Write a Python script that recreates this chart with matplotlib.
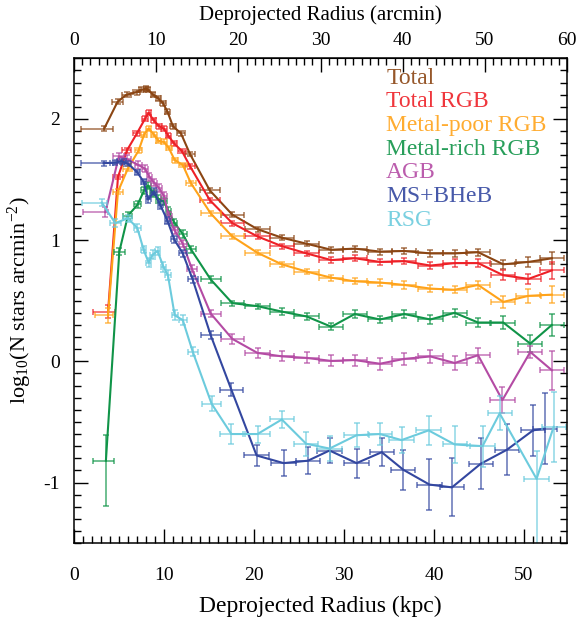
import matplotlib
matplotlib.use("Agg")
import matplotlib.pyplot as plt
from matplotlib.ticker import MultipleLocator, FixedLocator

plt.rcParams['font.family'] = ['Liberation Serif', 'DejaVu Serif']
plt.rcParams['mathtext.fontset'] = 'custom'
plt.rcParams['mathtext.rm'] = 'Liberation Serif'
plt.rcParams['mathtext.it'] = 'Liberation Serif:italic'
plt.rcParams['axes.unicode_minus'] = False

# ---- data ----
outer_x = [20.4, 23.1, 25.85, 28.6, 31.2, 34.0, 36.7, 39.6, 42.3, 44.9, 47.7, 50.5, 53.1]
outer_hw = [1.35, 1.35, 1.35, 1.35, 1.35, 1.35, 1.35, 1.35, 1.35, 1.35, 1.35, 1.35, 1.35]
# half widths of inner bins (after the first one)
inner_hw = [0.6, 0.5, 0.4, 0.3, 0.3, 0.3, 0.3, 0.3, 0.3, 0.35, 0.45, 0.55, 1.1, 1.3]

total_x = [3.37, 4.85, 5.85, 6.96, 7.5, 8.0, 8.26, 8.8, 9.37, 9.9, 10.4, 11.0, 11.9, 12.9, 15.1, 17.6] + outer_x
total_y = [1.92, 2.14, 2.20, 2.22, 2.24, 2.25, 2.24, 2.20, 2.17, 2.13, 2.06, 1.94, 1.88, 1.71, 1.41, 1.21,
           1.09, 1.02, 0.97, 0.92, 0.93, 0.905, 0.91, 0.89, 0.89, 0.90, 0.80, 0.82, 0.85]
total_yerr = [0.02, 0.02, 0.02, 0.02, 0.02, 0.02, 0.02, 0.02, 0.02, 0.02, 0.02, 0.02, 0.02, 0.02, 0.02, 0.02,
              0.02, 0.02, 0.02, 0.025, 0.025, 0.025, 0.025, 0.03, 0.03, 0.03, 0.035, 0.04, 0.05]
total_xerr_first = (2.55, 0.95)
total_inner_hw = [0.6, 0.5, 0.4, 0.25, 0.25, 0.25, 0.25, 0.3, 0.3, 0.3, 0.35, 0.45, 0.55, 1.1, 1.3]

rgb_x = [3.8, 4.9, 5.9, 7.0, 7.9, 8.3, 8.85, 9.45, 10.0, 10.5, 11.1, 12.0, 12.9, 15.1, 17.6] + outer_x
rgb_y = [0.41, 1.52, 1.74, 1.88, 2.00, 2.05, 1.99, 1.94, 1.92, 1.86, 1.80, 1.735, 1.61, 1.33, 1.14,
         1.03, 0.95, 0.89, 0.835, 0.85, 0.82, 0.826, 0.79, 0.81, 0.81, 0.71, 0.68, 0.75]
rgb_yerr = [0.055, 0.02, 0.02, 0.02, 0.02, 0.02, 0.02, 0.02, 0.02, 0.02, 0.02, 0.02, 0.02, 0.02, 0.02,
            0.02, 0.02, 0.02, 0.025, 0.025, 0.025, 0.025, 0.03, 0.03, 0.03, 0.04, 0.04, 0.07]
rgb_xerr_first = (1.7, 0.8)

mp_x = [3.8, 4.9, 6.0, 7.2, 7.8, 8.3, 8.9, 9.4, 10.0, 10.55, 11.2, 12.1, 13.0, 15.2, 17.6] + outer_x
mp_y = [0.38, 1.40, 1.59, 1.74, 1.87, 1.92, 1.87, 1.82, 1.81, 1.76, 1.66, 1.62, 1.47, 1.22, 1.03,
        0.895, 0.80, 0.74, 0.69, 0.66, 0.65, 0.63, 0.60, 0.59, 0.63, 0.49, 0.54, 0.55]
mp_yerr = [0.06, 0.02, 0.02, 0.02, 0.02, 0.02, 0.02, 0.02, 0.02, 0.02, 0.02, 0.02, 0.02, 0.02, 0.02,
           0.02, 0.02, 0.02, 0.025, 0.025, 0.025, 0.03, 0.03, 0.03, 0.035, 0.05, 0.055, 0.07]
mp_xerr_first = (1.4, 0.6)

mr_x = [3.56, 5.05, 6.0, 7.1, 7.8, 8.26, 8.8, 9.4, 10.0, 10.5, 11.15, 12.1, 13.0, 15.2, 17.6,
        20.4, 23.1, 25.85, 28.6, 31.2, 34.0, 36.7, 39.6, 42.3, 44.9, 47.7, 50.7, 53.1]
mr_y = [-0.82, 0.905, 1.20, 1.295, 1.41, 1.45, 1.385, 1.34, 1.32, 1.24, 1.145, 1.05, 0.925, 0.675, 0.48,
        0.455, 0.41, 0.37, 0.285, 0.39, 0.345, 0.39, 0.345, 0.40, 0.32, 0.32, 0.146, 0.30]
mr_yerr_lo = [0.37, 0.03, 0.03, 0.03, 0.03, 0.03, 0.03, 0.03, 0.03, 0.03, 0.03, 0.03, 0.03, 0.03, 0.02,
              0.02, 0.03, 0.03, 0.03, 0.03, 0.03, 0.035, 0.035, 0.035, 0.04, 0.055, 0.07, 0.09]
mr_yerr_hi = [0.21, 0.03, 0.03, 0.03, 0.03, 0.03, 0.03, 0.03, 0.03, 0.03, 0.03, 0.03, 0.03, 0.03, 0.02,
              0.02, 0.03, 0.03, 0.03, 0.03, 0.03, 0.035, 0.035, 0.035, 0.04, 0.055, 0.07, 0.09]
mr_xerr_first = (1.45, 0.85)

agb_x = [3.5, 5.0, 5.85, 7.15, 7.9, 8.4, 8.9, 9.45, 10.0, 10.55, 11.2, 12.1, 13.1, 15.2, 17.6,
         20.4, 23.1, 25.85, 28.6, 31.2, 34.0, 36.7, 39.6, 42.3, 44.9, 47.6, 50.7, 53.1]
agb_y = [1.23, 1.69, 1.67, 1.62, 1.59, 1.52, 1.475, 1.43, 1.365, 1.20, 1.08, 0.97, 0.765, 0.394, 0.185,
         0.069, 0.041, 0.028, 0.003, 0.01, -0.02, 0.02, 0.04, -0.014, 0.05, -0.32, 0.077, -0.074]
agb_yerr = [0.04, 0.03, 0.03, 0.03, 0.03, 0.03, 0.03, 0.03, 0.03, 0.03, 0.03, 0.03, 0.03, 0.03, 0.04,
            0.04, 0.04, 0.045, 0.045, 0.045, 0.05, 0.05, 0.05, 0.055, 0.06, 0.11, 0.05, 0.16]
agb_xerr_first = (2.5, 0.3)

ms_x = [3.3, 4.6, 5.3, 6.0, 7.05, 7.75, 8.26, 8.9, 9.6, 10.4, 11.15, 12.1, 13.2, 15.2, 17.5,
        20.3, 23.3, 26.0, 28.4, 31.4, 34.2, 36.6, 39.5, 42.0, 45.2, 48.1, 51.0, 52.3]
ms_y = [1.634, 1.64, 1.65, 1.63, 1.56, 1.48, 1.335, 1.40, 1.29, 1.16, 1.005, 0.89, 0.675, 0.215, -0.235,
        -0.777, -0.84, -0.82, -0.736, -0.84, -0.75, -0.895, -1.017, -1.04, -0.845, -0.73, -0.57, -0.555]
ms_yerr = [0.02, 0.02, 0.02, 0.02, 0.02, 0.02, 0.03, 0.03, 0.03, 0.03, 0.03, 0.03, 0.03, 0.035, 0.055,
           0.09, 0.105, 0.11, 0.105, 0.12, 0.117, 0.165, 0.21, 0.24, 0.21, 0.21, 0.21, 0.29]
ms_xerr_first = (2.5, 1.0)

rsg_x = [3.1, 4.6, 6.0, 7.05, 7.75, 8.3, 8.75, 9.3, 9.95, 10.45, 11.2, 12.1, 13.2, 15.3, 17.5,
         20.4, 23.1, 25.8, 28.4, 31.4, 34.0, 36.4, 39.4, 42.3, 45.4, 47.3, 51.4, 53.3]
rsg_y = [1.31, 1.14, 1.18, 1.10, 0.92, 0.815, 0.88, 0.91, 0.78, 0.71, 0.38, 0.34, 0.08, -0.35, -0.60,
         -0.60, -0.48, -0.68, -0.72, -0.61, -0.60, -0.65, -0.57, -0.686, -0.70, -0.43, -0.97, -0.54]
rsg_yerr_lo = [0.03, 0.03, 0.03, 0.03, 0.03, 0.035, 0.035, 0.035, 0.04, 0.04, 0.04, 0.04, 0.04, 0.06, 0.08,
               0.07, 0.07, 0.1, 0.1, 0.1, 0.09, 0.11, 0.12, 0.15, 0.17, 0.14, 0.6, 0.29]
rsg_yerr_hi = [0.03, 0.03, 0.03, 0.03, 0.03, 0.035, 0.035, 0.035, 0.04, 0.04, 0.04, 0.04, 0.04, 0.06, 0.08,
               0.07, 0.07, 0.1, 0.1, 0.1, 0.09, 0.11, 0.12, 0.15, 0.17, 0.14, 0.23, 0.29]
rsg_xerr_first = (2.2, 0.6)

labels = ['Total', 'Total RGB', 'Metal-poor RGB', 'Metal-rich RGB', 'AGB', 'MS+BHeB', 'RSG']
colors = ['#8B4513', '#EE2027', '#FFA31A', '#109448', '#B44BA4', '#3347A0', '#6CCBDD']

top_ticks = [0, 10, 20, 30, 40, 50, 60]

series = [
    (total_x, total_y, total_yerr, total_xerr_first, total_inner_hw),
    (rgb_x, rgb_y, rgb_yerr, rgb_xerr_first, inner_hw),
    (mp_x, mp_y, mp_yerr, mp_xerr_first, inner_hw),
    (mr_x, mr_y, [mr_yerr_lo, mr_yerr_hi], mr_xerr_first, inner_hw),
    (agb_x, agb_y, agb_yerr, agb_xerr_first, inner_hw),
    (ms_x, ms_y, ms_yerr, ms_xerr_first, inner_hw),
    (rsg_x, rsg_y, [rsg_yerr_lo, rsg_yerr_hi], rsg_xerr_first, inner_hw),
]

kpc_max = 54.8
arcmin_max = 60.0

fig = plt.figure(figsize=(5.77, 6.2), dpi=100)
ax = fig.add_axes([0.128, 0.124, 0.855, 0.782])

for (x, y, yerr, xfirst, hw), c in zip(series, colors):
    xerr = [[xfirst[0]] + hw + outer_hw, [xfirst[1]] + hw + outer_hw]
    ax.errorbar(x, y, xerr=xerr, yerr=yerr, fmt='none', ecolor=c, elinewidth=1.2,
                capsize=2.5, capthick=1.2, alpha=0.7)
    ax.plot(x, y, color=c, lw=1.5)

ax.set_xlim(0, kpc_max)
ax.set_ylim(-1.5, 2.5)
ax.xaxis.set_major_locator(MultipleLocator(10))
ax.xaxis.set_minor_locator(MultipleLocator(1))
ax.yaxis.set_major_locator(MultipleLocator(1))
ax.yaxis.set_minor_locator(MultipleLocator(0.1))
ax.tick_params(which='both', direction='in', right=True, top=False, width=1, labelsize=14)
ax.tick_params(which='major', length=10)
ax.tick_params(which='minor', length=5)
ax.tick_params(axis='x', which='both', pad=17)
ax.tick_params(axis='y', which='both', pad=10)
for s in ax.spines.values():
    s.set_linewidth(1.1)

sec = ax.secondary_xaxis('top', functions=(lambda k: k * arcmin_max / kpc_max,
                                           lambda a: a * kpc_max / arcmin_max))
sec.xaxis.set_major_locator(FixedLocator(top_ticks))
sec.xaxis.set_minor_locator(MultipleLocator(1))
sec.tick_params(which='both', direction='in', width=1, labelsize=14, pad=7)
sec.tick_params(which='major', length=10)
sec.tick_params(which='minor', length=5)
sec.set_xlabel('Deprojected Radius (arcmin)', fontsize=15, labelpad=8)

ax.set_xlabel('Deprojected Radius (kpc)', fontsize=17, labelpad=9)
ax.set_ylabel(r'log$_{10}$(N stars arcmin$^{-2}$)', fontsize=16, labelpad=7)

for i, (lab, c) in enumerate(zip(labels, colors)):
    ax.text(0.633, 0.959 - i * 0.0489, lab, color=c, fontsize=17, alpha=0.9,
            transform=ax.transAxes, ha='left', va='center')

fig.savefig('out.png', dpi=100)
